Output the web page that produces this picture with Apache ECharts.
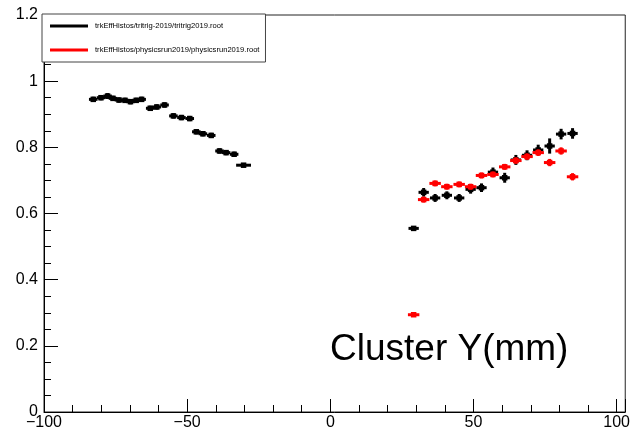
<!DOCTYPE html>
<html>
<head>
<meta charset="utf-8">
<script src="https://cdn.jsdelivr.net/npm/echarts@6/dist/echarts.min.js"></script>
<style>
    html, body { margin: 0; padding: 0; background: #fff; }
    #chart_main { width: 633px; height: 434px; }
</style>
</head>
<body>
<div id="chart_main"></div>
<script>
// cluster Y (mm) bin centres and efficiencies
let left_x = [-82.8, -80.1, -77.8, -75.9, -73.8, -71.7, -69.8, -67.8, -65.9, -62.9, -60.6,
    -57.9, -54.8, -52.0, -49.1, -46.8, -44.5, -41.6, -38.7, -36.4, -33.6, -30.3];
let left_eff = [0.945, 0.950, 0.955, 0.948, 0.943, 0.942, 0.938, 0.942, 0.945, 0.918, 0.922,
    0.928, 0.895, 0.890, 0.887, 0.847, 0.841, 0.836, 0.789, 0.784, 0.779, 0.746];
let left_xerr = [1.5, 1.5, 1.5, 1.5, 1.5, 1.5, 1.5, 1.5, 1.5, 1.5, 1.5,
    1.5, 1.5, 1.5, 1.5, 1.5, 1.5, 1.5, 1.5, 1.5, 1.5, 2.6];
let left_yerr = [0.008, 0.008, 0.009, 0.008, 0.008, 0.008, 0.008, 0.008, 0.008, 0.008, 0.008,
    0.008, 0.008, 0.008, 0.008, 0.008, 0.008, 0.008, 0.008, 0.008, 0.008, 0.006];

let right_x = [29.1, 32.6, 36.6, 40.7, 45.0, 49.0, 52.8, 56.8, 60.9, 64.8, 68.7, 72.6, 76.6, 80.6, 84.6];
let tritrig_eff = [0.555, 0.664, 0.647, 0.655, 0.647, 0.673, 0.678, 0.725, 0.708, 0.762, 0.776, 0.792, 0.804, 0.840, 0.842];
let tritrig_yerr = [0.006, 0.013, 0.012, 0.012, 0.012, 0.013, 0.013, 0.014, 0.015, 0.015, 0.015, 0.016, 0.023, 0.016, 0.016];
let physics_eff = [0.294, 0.642, 0.691, 0.681, 0.688, 0.681, 0.715, 0.718, 0.741, 0.760, 0.772, 0.784, 0.754, 0.789, 0.711];
let physics_yerr = [0.004, 0.009, 0.009, 0.009, 0.009, 0.009, 0.009, 0.009, 0.009, 0.010, 0.010, 0.010, 0.011, 0.011, 0.011];
let right_xerr_tritrig = 1.8;
let right_xerr_physics = 2.0;

let x_ticks = [-100, -50, 0, 50, 100];
let y_ticks = [0, 0.2, 0.4, 0.6, 0.8, 1, 1.2];

let name_tritrig = 'trkEffHistos/tritrig-2019/tritrig2019.root';
let name_physics = 'trkEffHistos/physicsrun2019/physicsrun2019.root';

let font = "'Liberation Sans', Arial, sans-serif";

function buildPoints(xs, ys, xerr, yerr) {
    let out = [];
    for (let i = 0; i < xs.length; i++) {
        let xe = Array.isArray(xerr) ? xerr[i] : xerr;
        out.push([xs[i], ys[i], xe, yerr[i]]);
    }
    return out;
}

let tritrig_data = buildPoints(left_x, left_eff, left_xerr, left_yerr)
    .concat(buildPoints(right_x, tritrig_eff, right_xerr_tritrig, tritrig_yerr));
let physics_data = buildPoints(right_x, physics_eff, right_xerr_physics, physics_yerr);

// error-bar point: horizontal bar for bin width, vertical bar for error, square marker
function renderPoint(params, api) {
    let x = api.value(0), y = api.value(1), xe = api.value(2), ye = api.value(3);
    let c = api.coord([x, y]);
    let l = api.coord([x - xe, y]);
    let r = api.coord([x + xe, y]);
    let t = api.coord([x, y + ye]);
    let b = api.coord([x, y - ye]);
    let color = api.visual('color');
    let s = 5.5;
    return {
        type: 'group',
        children: [
            {type: 'line', shape: {x1: l[0], y1: c[1], x2: r[0], y2: c[1]}, style: {stroke: color, lineWidth: 3}},
            {type: 'line', shape: {x1: c[0], y1: t[1], x2: c[0], y2: b[1]}, style: {stroke: color, lineWidth: 3}},
            {type: 'rect', shape: {x: c[0] - s / 2, y: c[1] - s / 2, width: s, height: s}, style: {fill: color}}
        ]
    };
}

let myChart = echarts.init(document.getElementById('chart_main'));
let option = {
    animation: false,
    backgroundColor: '#fff',
    grid: {
        left: 44, right: 0, top: 15, bottom: 22,
        show: true, borderColor: '#222', borderWidth: 1
    },
    legend: {
        orient: 'vertical',
        left: 42, top: 14,
        padding: [8, 6, 8, 8],
        itemGap: 16,
        itemWidth: 38,
        itemHeight: 3,
        icon: 'rect',
        borderColor: '#444',
        borderWidth: 1,
        backgroundColor: '#fff',
        textStyle: {fontFamily: font, fontSize: 7.6, lineHeight: 8, color: '#000', padding: [0, 0, 0, 2]},
        data: [name_tritrig, name_physics]
    },
    xAxis: {
        type: 'value',
        min: x_ticks[0],
        max: 103,
        interval: 50,
        axisLine: {onZero: false, lineStyle: {color: '#000', width: 1}},
        axisTick: {inside: true, length: 13, lineStyle: {color: '#000'}},
        minorTick: {show: true, splitNumber: 5, length: 7, lineStyle: {color: '#000'}},
        splitLine: {show: false},
        axisLabel: {
            fontFamily: font, fontSize: 16, color: '#000', margin: 3,
            showMaxLabel: false,
            formatter: function (v) {
                return x_ticks.indexOf(v) >= 0 ? String(v).replace('-', '\u2212') : '';
            }
        }
    },
    yAxis: {
        type: 'value',
        min: y_ticks[0],
        max: y_ticks[y_ticks.length - 1],
        interval: 0.2,
        axisLine: {show: true, onZero: false, lineStyle: {color: '#000', width: 1}},
        axisTick: {show: true, inside: true, length: 14, lineStyle: {color: '#000'}},
        minorTick: {show: true, splitNumber: 4, length: 7, lineStyle: {color: '#000'}},
        splitLine: {show: false},
        axisLabel: {fontFamily: font, fontSize: 16, color: '#000', margin: 6}
    },
    graphic: [{
        type: 'text',
        left: 330,
        top: 331,
        style: {text: 'Cluster Y(mm)', font: '37px ' + font, fill: '#000'}
    }],
    series: [{
        name: name_tritrig,
        type: 'custom',
        renderItem: renderPoint,
        itemStyle: {color: '#000'},
        encode: {x: 0, y: 1},
        data: tritrig_data
    }, {
        name: name_physics,
        type: 'custom',
        renderItem: renderPoint,
        itemStyle: {color: '#ff0000'},
        encode: {x: 0, y: 1},
        data: physics_data
    }]
};
myChart.setOption(option);
</script>
</body>
</html>
